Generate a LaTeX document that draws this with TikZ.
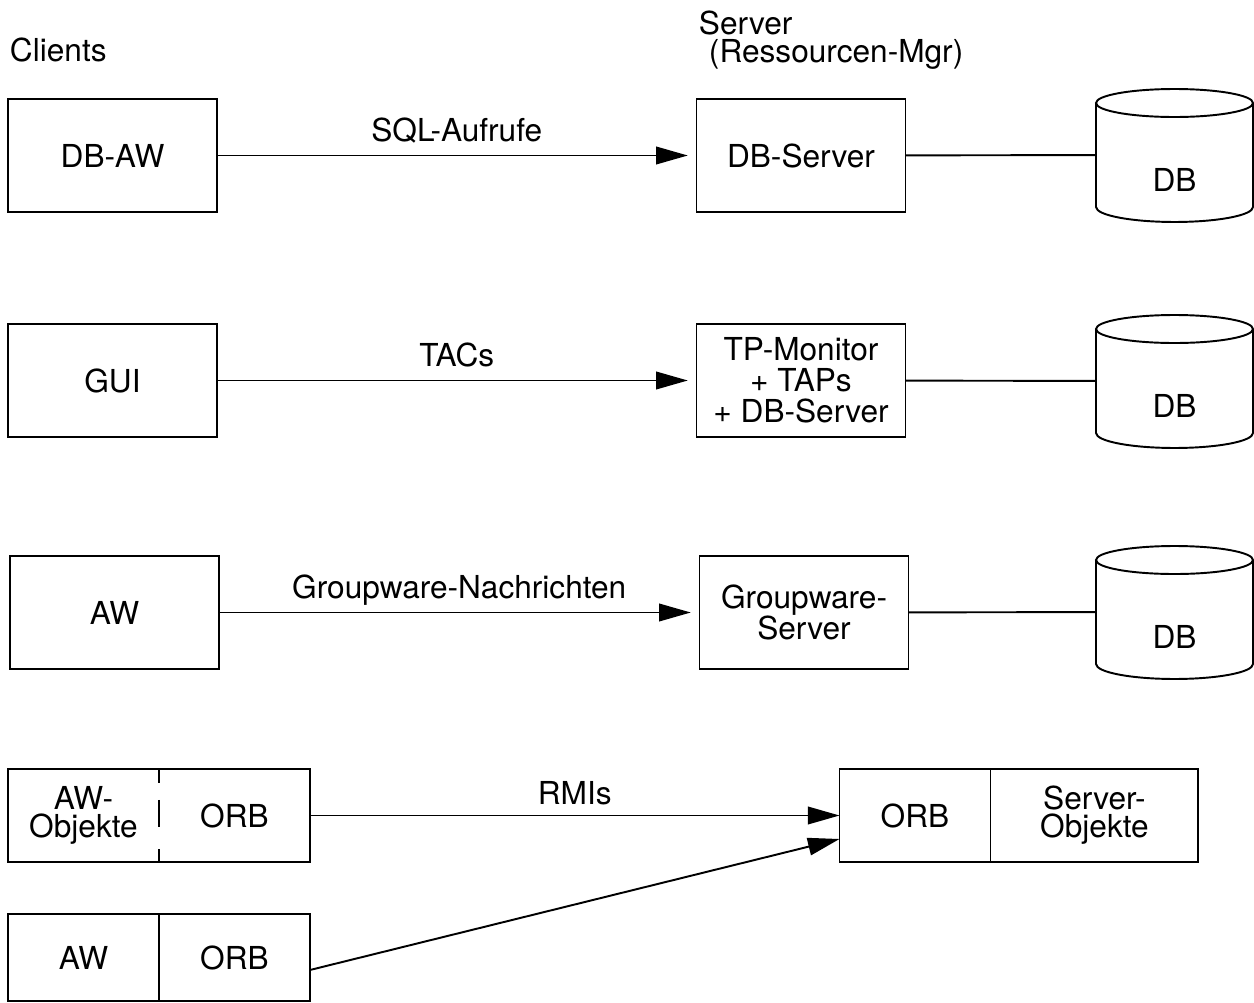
\documentclass[tikz,border=0pt]{standalone}
\usepackage{fontspec}
\setmainfont{TeX Gyre Heros}
\usetikzlibrary{positioning,arrows.meta}

\tikzset{
  box/.style = {draw, minimum width=4.18cm, minimum height=2.26cm, align=center, inner sep=0pt, outer sep=0pt},
  half/.style = {minimum width=3.02cm, minimum height=1.86cm, align=center, inner sep=0pt, outer sep=0pt},
  dbbody/.style = {minimum width=3.14cm, minimum height=2.08cm, inner sep=0pt, outer sep=0pt},
  lbl/.style = {midway, anchor=base, yshift=8pt, inner sep=0pt},
  title/.style = {anchor=base west, inner sep=0pt},
  arr/.style = {-{Triangle[length=18pt, width=10pt]}, shorten >=5pt},
  divider/.style = {dash pattern=on 7.9pt off 9.6pt on 15.3pt off 13pt on 6.8pt off 20pt}
}

% Datenbank-Zylinder um den Knoten #1
\newcommand{\dbcyl}[1]{
  \draw (#1.north) ellipse [x radius=1.57cm, y radius=0.28cm];
  \draw (#1.north west) -- (#1.south west) arc [start angle=180, end angle=360, x radius=1.57cm, y radius=0.3cm] -- (#1.north east);
  \node at ([yshift=-0.5cm]#1.center) {DB};
}

\begin{document}
\begin{tikzpicture}[x = 0.02cm, y = -0.02cm, line width = 1.1pt, font = \fontsize{18pt}{18pt}\selectfont]
    \useasboundingbox (0,0) rectangle (1254,1003);

    \node[title] (clients) at (9,62) {Clients};
    \node[title] (srvlbl) at (698,35) {Server};
    \node[title] (resmgr) at (708,63) {(Ressourcen-Mgr)};

    % DB-Anwendung
    \node[box] (dbaw) at (112.5,155.5) {DB-AW};
    \node[box] (dbsrv) at (801,155.5) {DB-Server};
    \node[dbbody] (db1) at (1174.5,155) {};
    \dbcyl{db1}
    \draw[arr] (dbaw) -- node[lbl]{SQL-Aufrufe} (dbsrv);
    \draw (dbsrv) -- (db1);

    % TP-Monitor
    \node[box] (gui) at (112.5,380.5) {GUI};
    \node[box, font=\fontsize{18pt}{17.5pt}\selectfont] (tpmon) at (801,380.5) {TP-Monitor\\+ TAPs\\+ DB-Server};
    \node[dbbody] (db2) at (1174.5,381) {};
    \dbcyl{db2}
    \draw[arr] (gui) -- node[lbl]{TACs} (tpmon);
    \draw (tpmon) -- (db2);

    % Groupware
    \node[box] (aw) at (114.5,612.5) {AW};
    \node[box] (gwsrv) at (804,612.5) {Groupware-\\Server};
    \node[dbbody] (db3) at (1174.5,612) {};
    \dbcyl{db3}
    \draw[arr] (aw) -- node[lbl]{Groupware-Nachrichten} (gwsrv);
    \draw (gwsrv) -- (db3);

    % verteilte Objekte
    \node[half, font=\fontsize{18pt}{16pt}\selectfont] (awobj) at (83.5,815.5) {AW-\\Objekte};
    \node[half, right=0pt of awobj] (orbc) {ORB};
    \draw (awobj.north west) rectangle (orbc.south east);
    \draw[divider] (awobj.north east) -- (awobj.south east);
    \node[half, draw] (orbs) at (915,815.5) {ORB};
    \node[half, draw, minimum width=4.16cm, right=0pt of orbs, font=\fontsize{18pt}{16pt}\selectfont] (srvobj) {Server-\\Objekte};

    \node[half, draw, minimum height=1.74cm] (aw2) at (83.5,957.5) {AW};
    \node[half, draw, minimum height=1.74cm, right=0pt of aw2] (orbc2) {ORB};

    \draw[arr, shorten >=0pt] (orbc) -- node[lbl, yshift=-1.5pt]{RMIs} (orbs);
    \draw[arr, shorten >=0pt] ([yshift=-0.25cm]orbc2.east) -- ([yshift=-0.47cm]orbs.west);
\end{tikzpicture}
\end{document}
